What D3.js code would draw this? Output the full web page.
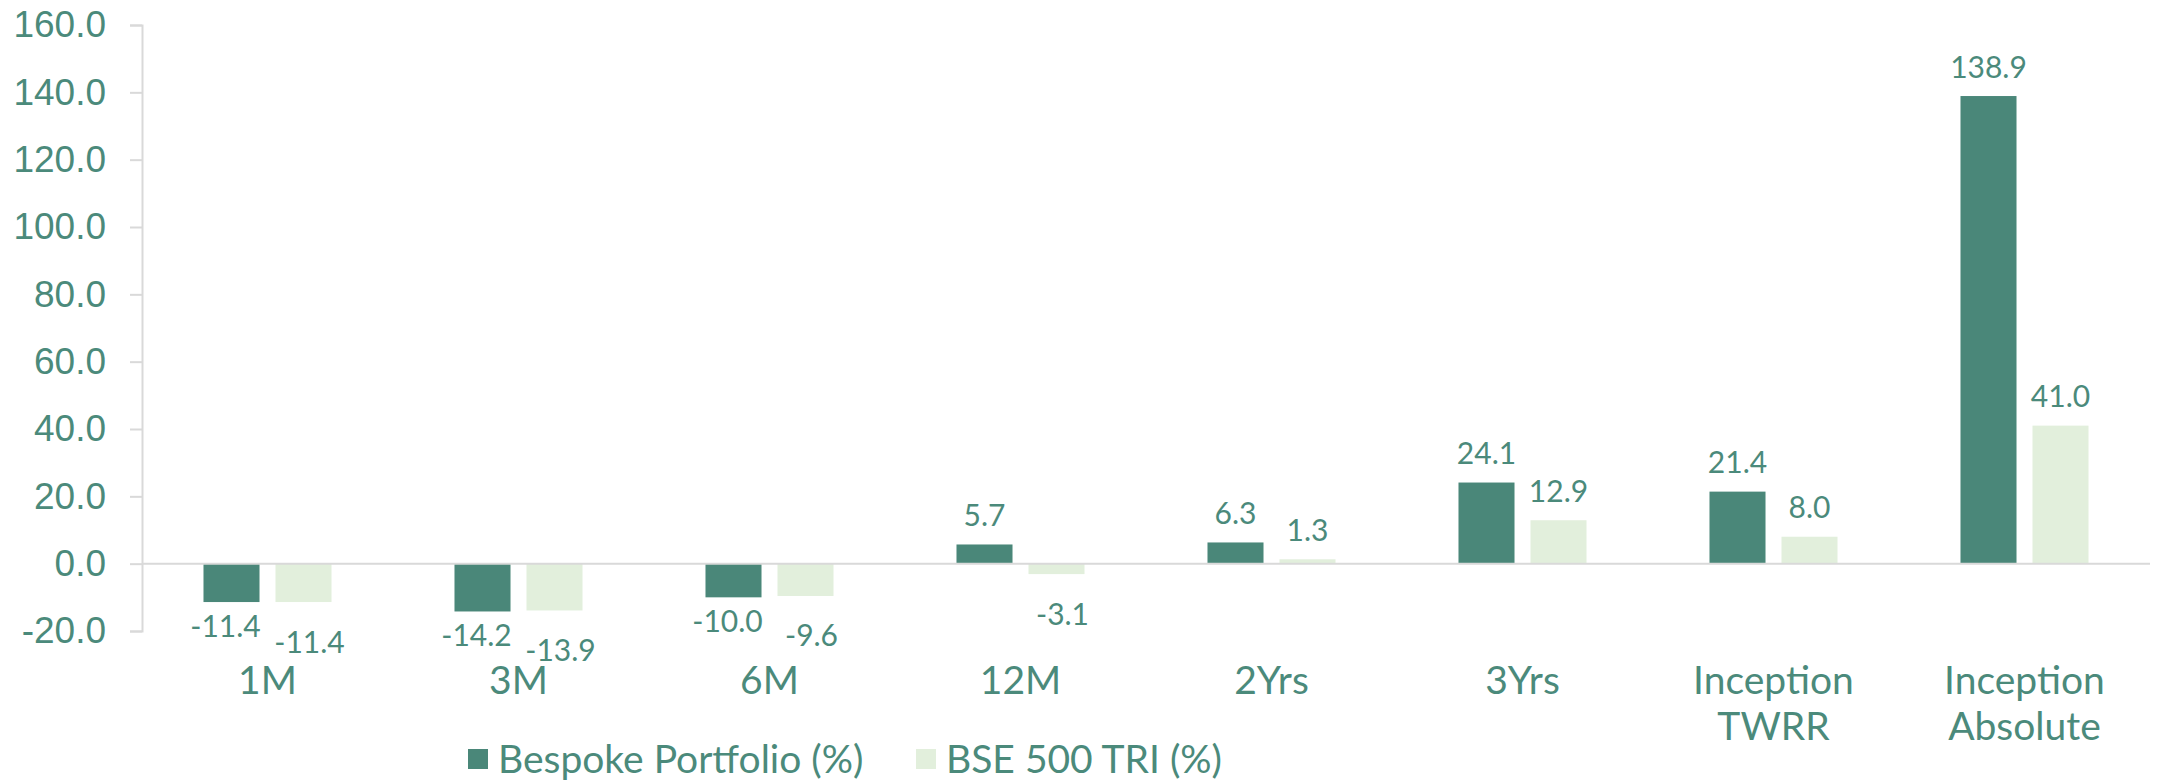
<!DOCTYPE html>
<html lang="en">
<head>
<meta charset="UTF-8">
<title>Bespoke Portfolio vs BSE 500 TRI</title>
<script src="https://cdn.jsdelivr.net/npm/d3@7"></script>
<style>
    body { margin: 0; background: #fff; }
    svg { font-family: Lato, "Open Sans", sans-serif; }
</style>
</head>
<body>
<div id="chart"></div>
<script>
// data
var categories = [['1M'], ['3M'], ['6M'], ['12M'], ['2Yrs'], ['3Yrs'], ['Inception', 'TWRR'], ['Inception', 'Absolute']];
var seriesNames = ['Bespoke Portfolio (%)', 'BSE 500 TRI (%)'];
var bespoke = [-11.4, -14.2, -10.0, 5.7, 6.3, 24.1, 21.4, 138.9];
var bse500 = [-11.4, -13.9, -9.6, -3.1, 1.3, 12.9, 8.0, 41.0];
var yTicks = [-20, 0, 20, 40, 60, 80, 100, 120, 140, 160];

var colors = ['#4a8779', '#e2efdc'];
var textColor = '#4b8a7b';

var W = 2159, H = 783;
var plotLeft = 142, plotRight = 2150, plotTop = 25, plotBottom = 631;

var svg = d3.select('#chart').append('svg')
    .attr('width', W).attr('height', H);

var keys = categories.map(function(c) { return c.join(' '); });
var x = d3.scaleBand().domain(keys).range([plotLeft, plotRight]);
var x1 = d3.scaleBand().domain(seriesNames).range([0, x.bandwidth()])
    .paddingInner(0.222).paddingOuter(0.854);
var y = d3.scaleLinear().domain([-20, 160]).range([plotBottom, plotTop]);

// y axis
var yAxis = svg.append('g')
    .attr('transform', 'translate(' + plotLeft + ',0)')
    .call(d3.axisLeft(y).tickValues(yTicks).tickSize(12).tickPadding(24)
        .tickFormat(function(d) { return d.toFixed(1); }));
yAxis.select('.domain').attr('stroke', '#d9d9d9').attr('stroke-width', 2);
yAxis.selectAll('.tick line').attr('stroke', '#d9d9d9').attr('stroke-width', 2);
yAxis.selectAll('.tick text').attr('fill', textColor).style('font-size', '37px');

var rows = [bespoke, bse500];

// bars
rows.forEach(function(vals, s) {
    svg.append('g').selectAll('rect')
        .data(vals)
        .enter().append('rect')
        .attr('x', function(d, i) { return x(keys[i]) + x1(seriesNames[s]); })
        .attr('y', function(d) { return y(Math.max(0, d)); })
        .attr('width', x1.bandwidth())
        .attr('height', function(d) { return Math.abs(y(d) - y(0)); })
        .attr('fill', colors[s]);
});

// zero line
svg.append('line')
    .attr('x1', plotLeft).attr('x2', plotRight)
    .attr('y1', y(0)).attr('y2', y(0))
    .attr('stroke', '#d9d9d9').attr('stroke-width', 2);

// value labels (negative ones sit below the bar, light series a bit lower)
var negShift = [24, 40];
rows.forEach(function(vals, s) {
    svg.append('g').selectAll('text')
        .data(vals)
        .enter().append('text')
        .attr('x', function(d, i) {
            var cx = x(keys[i]) + x1(seriesNames[s]) + x1.bandwidth() / 2;
            return d < 0 ? cx + (s === 0 ? -6 : 6) : cx;
        })
        .attr('y', function(d) { return d >= 0 ? y(d) - 29 : y(d) + negShift[s]; })
        .attr('dy', '0.35em')
        .attr('text-anchor', 'middle')
        .attr('fill', textColor)
        .style('font-size', '30px')
        .text(function(d) { return d.toFixed(1); });
});

// category labels
var cat = svg.append('g').selectAll('text')
    .data(categories)
    .enter().append('text')
    .attr('x', function(d, i) { return x(keys[i]) + x.bandwidth() / 2; })
    .attr('y', 680)
    .attr('text-anchor', 'middle')
    .attr('fill', textColor)
    .style('font-size', '39px');
cat.selectAll('tspan')
    .data(function(d) { return d; })
    .enter().append('tspan')
    .attr('x', function() { return d3.select(this.parentNode).attr('x'); })
    .attr('dy', function(d, i) { return i === 0 ? '0.35em' : '46px'; })
    .text(function(d) { return d; });

// legend
var legendX = [468, 916];
var lg = svg.append('g').selectAll('g')
    .data(seriesNames)
    .enter().append('g')
    .attr('transform', function(d, i) { return 'translate(' + legendX[i] + ',759)'; });
lg.append('rect')
    .attr('x', 0).attr('y', -10).attr('width', 20).attr('height', 20)
    .attr('fill', function(d, i) { return colors[i]; });
lg.append('text')
    .attr('x', 30).attr('dy', '0.35em')
    .attr('fill', textColor)
    .style('font-size', '39px')
    .text(function(d) { return d; });
</script>
</body>
</html>
